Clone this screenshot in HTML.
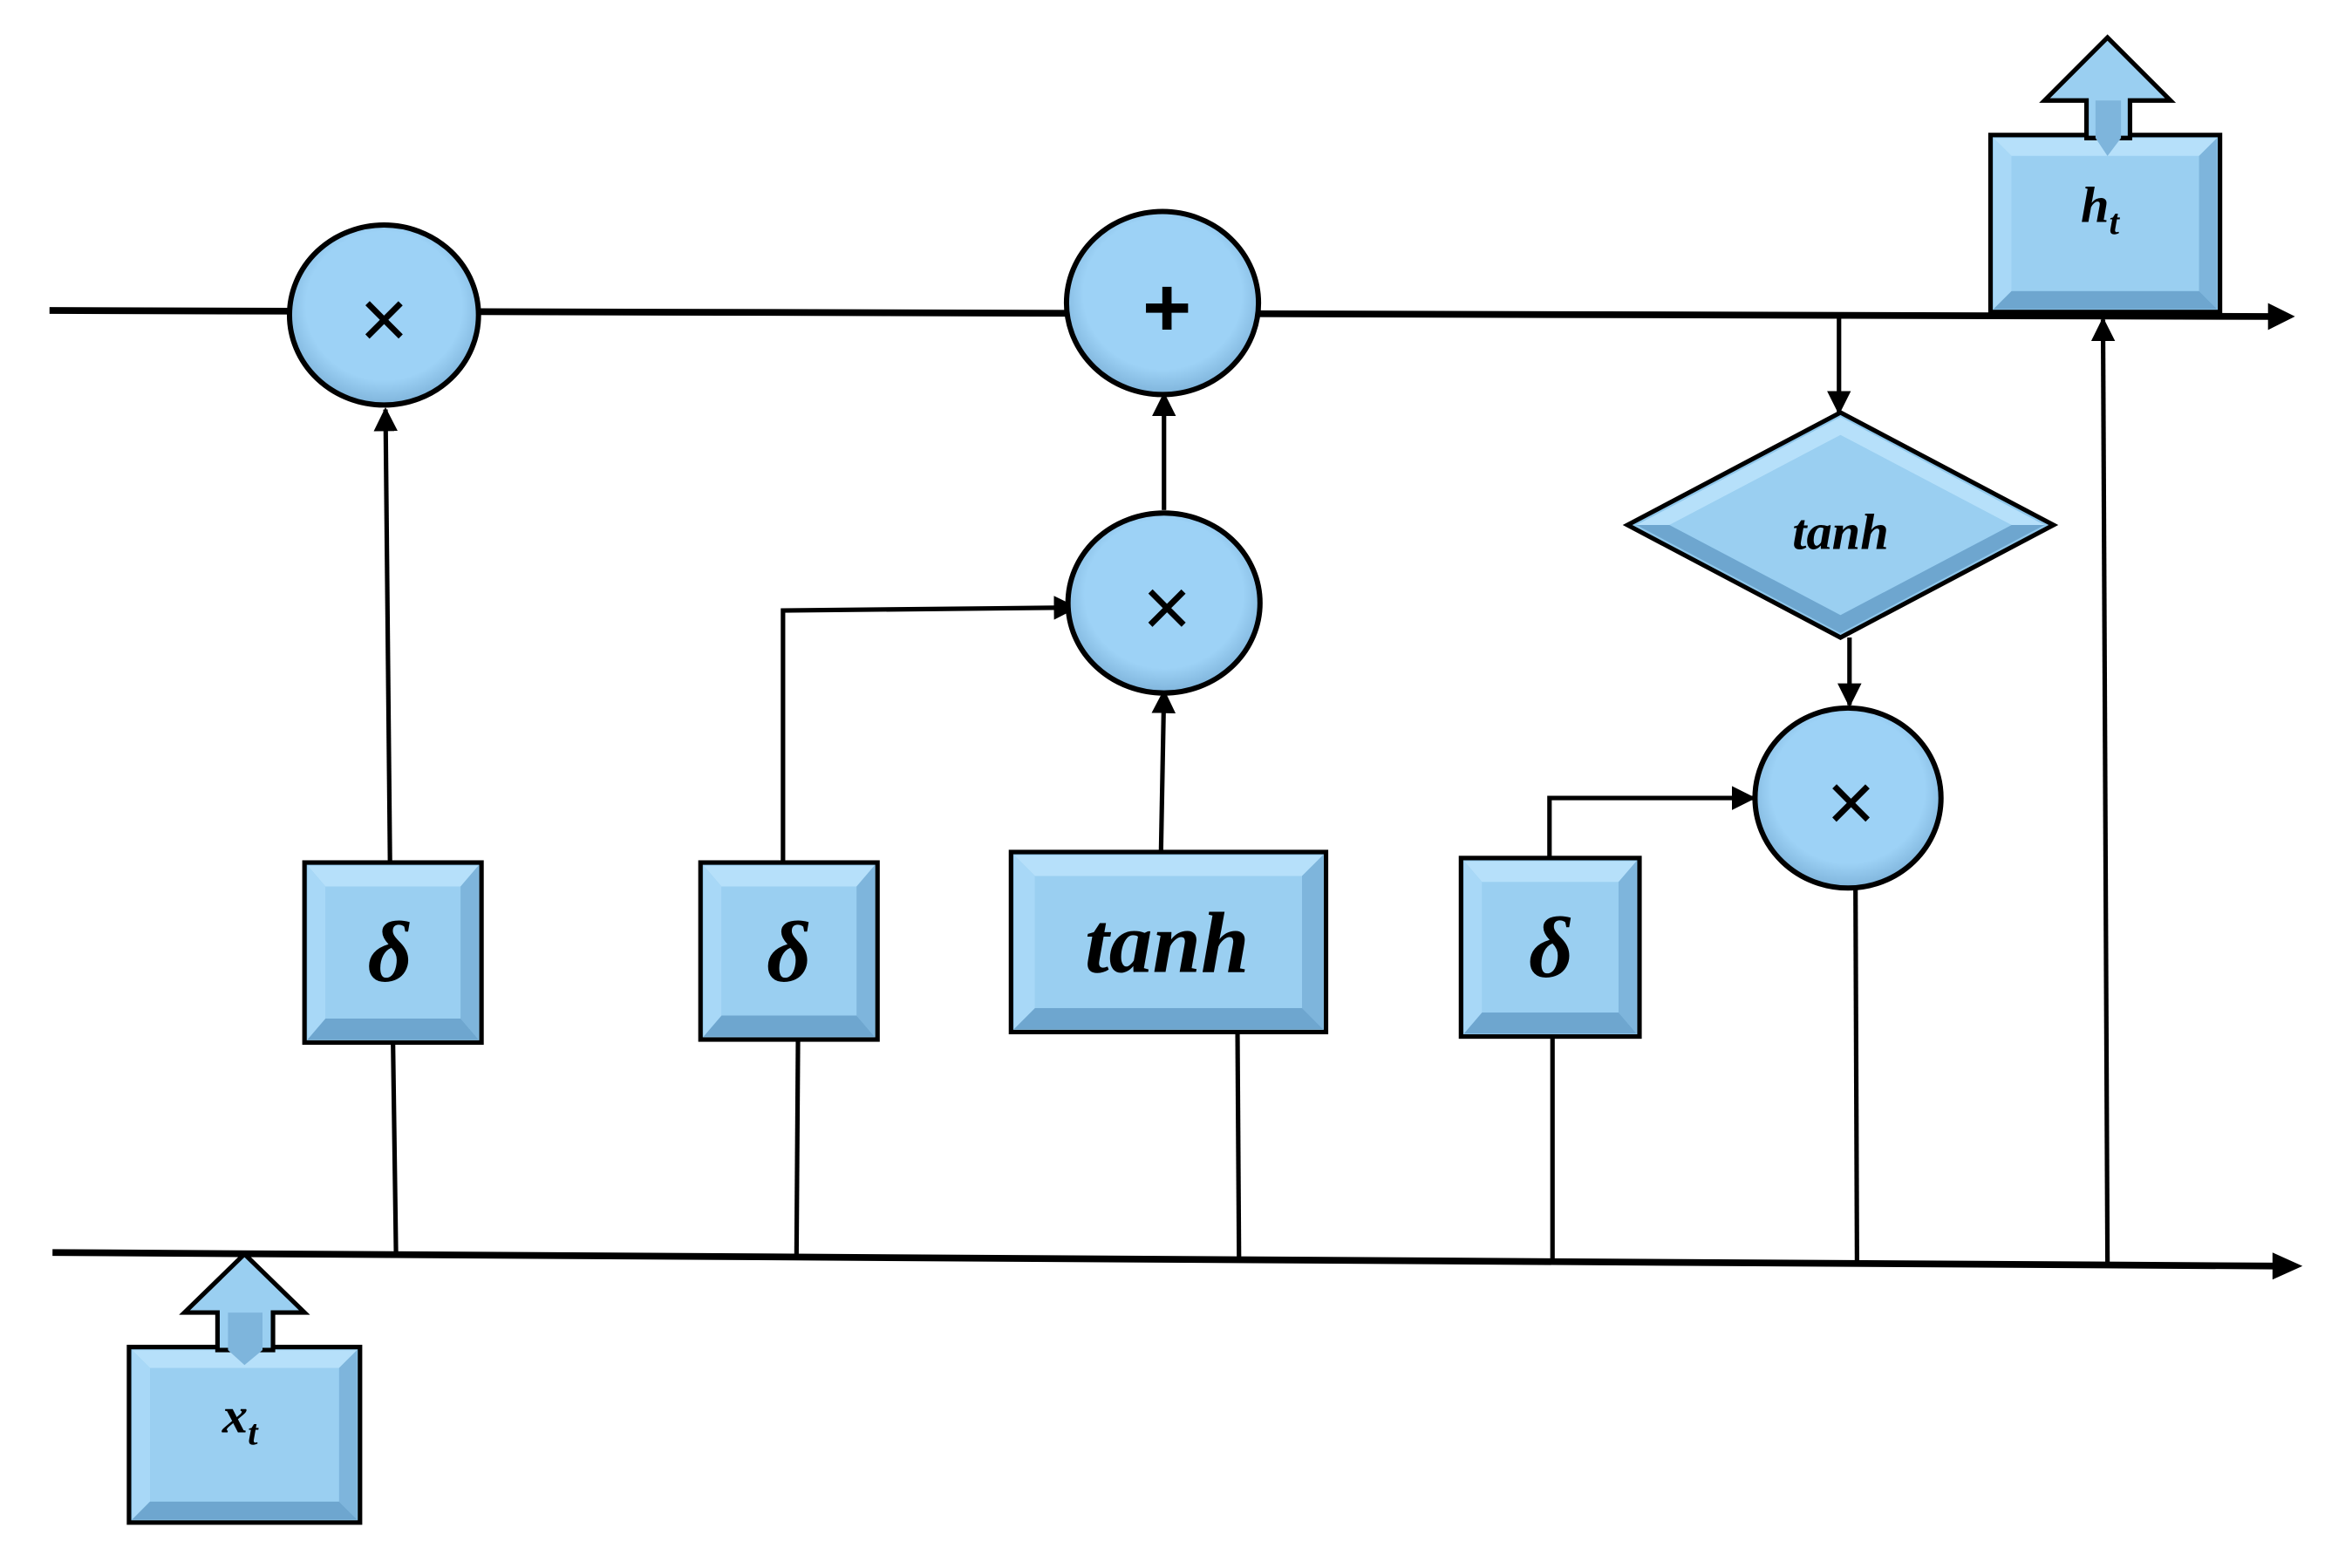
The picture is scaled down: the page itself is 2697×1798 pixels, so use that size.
<!DOCTYPE html>
<html><head><meta charset="utf-8"><style>
html,body{margin:0;padding:0;background:#fff;}
svg{display:block;}
text{font-family:"Liberation Serif",serif;font-style:italic;font-weight:bold;fill:#000;}
text.op{font-family:"Liberation Sans",sans-serif;font-style:normal;font-weight:normal;}
</style></head><body>
<svg width="2697" height="1798" viewBox="0 0 1568 1045.3" preserveAspectRatio="none" xmlns="http://www.w3.org/2000/svg">
<defs>
<marker id="ah2" viewBox="0 0 10 10" refX="9" refY="5" markerWidth="16" markerHeight="16" markerUnits="userSpaceOnUse" orient="auto">
<path d="M0,0 L10,5 L0,10 z" fill="#000"/></marker>
<radialGradient id="cg" cx="50%" cy="45%" r="55%">
<stop offset="75%" stop-color="#9dd2f6"/><stop offset="100%" stop-color="#7fb4db"/></radialGradient>
</defs>
<g stroke="#000" fill="none" stroke-linecap="butt">
<line x1="33" y1="207" x2="1515" y2="211" stroke-width="4.5"/>
<path d="M1512,202 L1530,211 L1512,220 z" fill="#000" stroke="none"/>
<line x1="35" y1="835" x2="1518" y2="844" stroke-width="4.5"/>
<path d="M1515,835 L1535,844 L1515,853 z" fill="#000" stroke="none"/>
<g stroke-width="3">
<line x1="264" y1="835" x2="262" y2="695"/>
<line x1="260" y1="575" x2="257" y2="273" marker-end="url(#ah2)"/>
<line x1="531" y1="837" x2="532" y2="693"/>
<polyline points="522,575 522,407 717,405" marker-end="url(#ah2)"/>
<line x1="826" y1="838" x2="825" y2="688"/>
<line x1="774" y1="568" x2="776" y2="461" marker-end="url(#ah2)"/>
<line x1="776" y1="340" x2="776" y2="263" marker-end="url(#ah2)"/>
<line x1="1035" y1="840" x2="1035" y2="691"/>
<polyline points="1033,572 1033,532 1169,532" marker-end="url(#ah2)"/>
<line x1="1238" y1="842" x2="1237" y2="592"/>
<line x1="1233" y1="425" x2="1233" y2="470" marker-end="url(#ah2)"/>
<line x1="1226" y1="210" x2="1226" y2="275" marker-end="url(#ah2)"/>
<line x1="1405" y1="843" x2="1402" y2="213" marker-end="url(#ah2)"/>
</g>
</g>
<g stroke="#000" stroke-width="3.5" fill="url(#cg)">
<ellipse cx="256" cy="210" rx="63" ry="60"/>
<ellipse cx="775" cy="202" rx="64" ry="61"/>
<ellipse cx="776" cy="402" rx="64" ry="60"/>
<ellipse cx="1232" cy="532" rx="62" ry="60"/>
</g>
<g text-anchor="middle">
<text class="op" x="256" y="232" font-size="56">×</text>
<text class="op" x="778" y="224" font-size="56" style="font-weight:bold">+</text>
<text class="op" x="778" y="424" font-size="56">×</text>
<text class="op" x="1234" y="554" font-size="56">×</text>
</g>
<g stroke="none">
<g>
<rect x="203" y="575" width="118" height="120" fill="#8ec6ea" stroke="#000" stroke-width="3"/>
<polygon points="205,577 319,577 307,591 217,591" fill="#b6e0fa"/>
<polygon points="205,693 319,693 307,679 217,679" fill="#6ea6cf"/>
<polygon points="205,577 217,591 217,679 205,693" fill="#a8d8f7"/>
<polygon points="319,577 307,591 307,679 319,693" fill="#7eb5dc"/>
<rect x="217" y="591" width="90" height="88" fill="#9acff1"/>
</g>
<g>
<rect x="467" y="575" width="118" height="118" fill="#8ec6ea" stroke="#000" stroke-width="3"/>
<polygon points="469,577 583,577 571,591 481,591" fill="#b6e0fa"/>
<polygon points="469,691 583,691 571,677 481,677" fill="#6ea6cf"/>
<polygon points="469,577 481,591 481,677 469,691" fill="#a8d8f7"/>
<polygon points="583,577 571,591 571,677 583,691" fill="#7eb5dc"/>
<rect x="481" y="591" width="90" height="86" fill="#9acff1"/>
</g>
<g>
<rect x="674" y="568" width="210" height="120" fill="#8ec6ea" stroke="#000" stroke-width="3"/>
<polygon points="676,570 882,570 868,584 690,584" fill="#b6e0fa"/>
<polygon points="676,686 882,686 868,672 690,672" fill="#6ea6cf"/>
<polygon points="676,570 690,584 690,672 676,686" fill="#a8d8f7"/>
<polygon points="882,570 868,584 868,672 882,686" fill="#7eb5dc"/>
<rect x="690" y="584" width="178" height="88" fill="#9acff1"/>
</g>
<g>
<rect x="974" y="572" width="119" height="119" fill="#8ec6ea" stroke="#000" stroke-width="3"/>
<polygon points="976,574 1091,574 1079,588 988,588" fill="#b6e0fa"/>
<polygon points="976,689 1091,689 1079,675 988,675" fill="#6ea6cf"/>
<polygon points="976,574 988,588 988,675 976,689" fill="#a8d8f7"/>
<polygon points="1091,574 1079,588 1079,675 1091,689" fill="#7eb5dc"/>
<rect x="988" y="588" width="91" height="87" fill="#9acff1"/>
</g>
<g>
<rect x="1327" y="90" width="153" height="118" fill="#8ec6ea" stroke="#000" stroke-width="3"/>
<polygon points="1329,92 1478,92 1466,104 1341,104" fill="#b6e0fa"/>
<polygon points="1329,206 1478,206 1466,194 1341,194" fill="#6ea6cf"/>
<polygon points="1329,92 1341,104 1341,194 1329,206" fill="#a8d8f7"/>
<polygon points="1478,92 1466,104 1466,194 1478,206" fill="#7eb5dc"/>
<rect x="1341" y="104" width="125" height="90" fill="#9acff1"/>
<polygon points="1391,92 1391,67 1363,67 1405,25 1447,67 1420,67 1420,92" fill="#9acff1" stroke="#000" stroke-width="3"/>
<polygon points="1397,67 1414,67 1414,92 1405,104 1397,92" fill="#7eb5dc"/>
</g>
<g>
<rect x="86" y="898" width="154" height="117" fill="#8ec6ea" stroke="#000" stroke-width="3"/>
<polygon points="88,900 238,900 226,912 100,912" fill="#b6e0fa"/>
<polygon points="88,1013 238,1013 226,1001 100,1001" fill="#6ea6cf"/>
<polygon points="88,900 100,912 100,1001 88,1013" fill="#a8d8f7"/>
<polygon points="238,900 226,912 226,1001 238,1013" fill="#7eb5dc"/>
<rect x="100" y="912" width="126" height="89" fill="#9acff1"/>
<polygon points="145,900 145,875 123,875 163,836 203,875 182,875 182,900" fill="#9acff1" stroke="#000" stroke-width="3"/>
<polygon points="152,875 175,875 175,900 163,910 152,900" fill="#7eb5dc"/>
</g>
<g>
<polygon points="1227,275 1369,350 1227,425 1085,350" fill="#8ec6ea" stroke="#000" stroke-width="3"/>
<polygon points="1227,278 1363,350 1341,350 1227,290 1113,350 1091,350" fill="#b6e0fa"/>
<polygon points="1227,422 1363,350 1341,350 1227,410 1113,350 1091,350" fill="#6ea6cf"/>
<polygon points="1227,290 1341,350 1227,410 1113,350" fill="#9acff1"/>
</g>
</g>
<g text-anchor="middle">
<text x="260" y="654" font-size="58">δ</text>
<text x="526" y="654" font-size="58">δ</text>
<text x="1034" y="651" font-size="58">δ</text>
<text x="778" y="648" font-size="58">tanh</text>
<text x="1227" y="366" font-size="34">tanh</text>
<text x="1400" y="148" font-size="34">h<tspan font-size="24" dy="8">t</tspan></text>
<text x="160" y="955" font-size="34">x<tspan font-size="24" dy="8">t</tspan></text>
</g>
</svg>
</body></html>
